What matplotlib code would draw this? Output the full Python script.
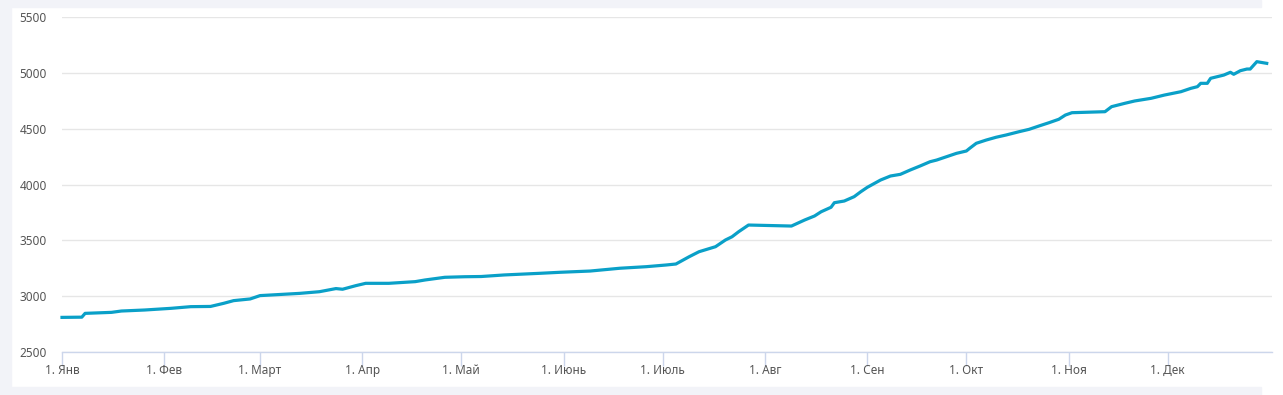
import matplotlib
matplotlib.use("Agg")
import matplotlib.pyplot as plt
from matplotlib.patches import Rectangle
from datetime import datetime, timedelta

# data (2020, daily balance-like series)
dates = [
    "2020-01-01", "2020-01-07", "2020-01-08", "2020-01-16", "2020-01-19", "2020-01-26",
    "2020-02-03", "2020-02-09", "2020-02-15", "2020-02-19", "2020-02-22", "2020-02-27",
    "2020-03-01", "2020-03-13", "2020-03-19", "2020-03-24", "2020-03-26", "2020-03-30",
    "2020-04-02", "2020-04-09", "2020-04-17", "2020-04-20", "2020-04-26",
    "2020-05-02", "2020-05-07", "2020-05-14", "2020-05-25", "2020-05-31",
    "2020-06-09", "2020-06-18", "2020-06-26",
    "2020-07-02", "2020-07-05", "2020-07-09", "2020-07-12", "2020-07-17", "2020-07-20",
    "2020-07-22", "2020-07-24", "2020-07-27",
    "2020-08-09", "2020-08-13", "2020-08-16", "2020-08-18", "2020-08-21", "2020-08-22",
    "2020-08-25", "2020-08-28", "2020-08-30",
    "2020-09-01", "2020-09-05", "2020-09-08", "2020-09-11", "2020-09-14", "2020-09-17",
    "2020-09-20", "2020-09-22", "2020-09-25", "2020-09-28",
    "2020-10-01", "2020-10-02", "2020-10-04", "2020-10-07", "2020-10-10", "2020-10-13",
    "2020-10-17", "2020-10-20", "2020-10-23", "2020-10-26", "2020-10-29", "2020-10-31",
    "2020-11-02", "2020-11-12", "2020-11-14", "2020-11-18", "2020-11-21", "2020-11-26",
    "2020-11-30",
    "2020-12-05", "2020-12-08", "2020-12-10", "2020-12-11", "2020-12-13", "2020-12-14",
    "2020-12-18", "2020-12-20", "2020-12-21", "2020-12-23", "2020-12-25", "2020-12-26",
    "2020-12-28", "2020-12-31",
]
values = [
    2810, 2812, 2846, 2855, 2867, 2876,
    2891, 2906, 2908, 2936, 2960, 2975,
    3005, 3025, 3040, 3068, 3062, 3094,
    3115, 3115, 3130, 3145, 3169,
    3174, 3176, 3190, 3205, 3214,
    3225, 3250, 3264,
    3279, 3288, 3353, 3398, 3443, 3503,
    3532, 3577, 3637,
    3628, 3682, 3718, 3756, 3796, 3837,
    3852, 3891, 3935,
    3975, 4040, 4076, 4091, 4130, 4166,
    4204, 4219, 4249, 4279,
    4300, 4324, 4369, 4398, 4423, 4443,
    4473, 4494, 4524, 4553, 4584, 4622,
    4643, 4652, 4697, 4727, 4748, 4772,
    4801,
    4831, 4861, 4876, 4906, 4906, 4951,
    4980, 5005, 4987, 5019, 5034, 5034,
    5100, 5085,
]
month_labels = ["1. Янв", "1. Фев", "1. Март", "1. Апр", "1. Май", "1. Июнь",
                "1. Июль", "1. Авг", "1. Сен", "1. Окт", "1. Ноя", "1. Дек"]
y_ticks = [2500, 3000, 3500, 4000, 4500, 5000, 5500]

plt.rcParams['font.family'] = ['Noto Sans', 'DejaVu Sans']

W, H = 1283, 395
fig = plt.figure(figsize=(W / 100, H / 100), dpi=100, facecolor='white')

# light grey page frame
bg = '#f2f3f8'
fig.patches.append(Rectangle((0, 0), 11 / W, 1, transform=fig.transFigure, color=bg, zorder=0))
fig.patches.append(Rectangle((0, 1 - 7 / H), 1261 / W, 7 / H, transform=fig.transFigure, color=bg, zorder=0))
fig.patches.append(Rectangle((0, 0), 1261 / W, 8 / H, transform=fig.transFigure, color=bg, zorder=0))

ax = fig.add_axes([62 / W, 1 - 352 / H, (1272 - 62) / W, 335 / H])
ax.set_facecolor('white')

x = [datetime.strptime(d, "%Y-%m-%d") for d in dates]
ax.plot(x, values, color='#0aa0c8', lw=2.3, solid_joinstyle='round', clip_on=False, zorder=3)

start = datetime(2020, 1, 1)
ax.set_xlim(start, start + timedelta(days=366.6))
ax.set_ylim(2500, 5500)

month_starts = [datetime(2020, m, 1) for m in range(1, 13)]
ax.set_xticks(month_starts)
ax.set_xticklabels(month_labels)
ax.set_yticks(y_ticks)
ax.set_yticklabels([str(v) for v in y_ticks])

ax.grid(axis='y', color='#e6e6e6', lw=1)
ax.set_axisbelow(True)
for s in ['top', 'right', 'left']:
    ax.spines[s].set_visible(False)
ax.spines['bottom'].set_color('#ccd6eb')
ax.spines['bottom'].set_linewidth(1)

ax.tick_params(axis='x', length=10, width=1, color='#ccd6eb', labelcolor='#555555',
               labelsize=8.5, pad=-1.5)
ax.tick_params(axis='y', length=0, labelcolor='#555555', labelsize=8.5, pad=11)

fig.savefig('out.png', dpi=100, facecolor=fig.get_facecolor())
